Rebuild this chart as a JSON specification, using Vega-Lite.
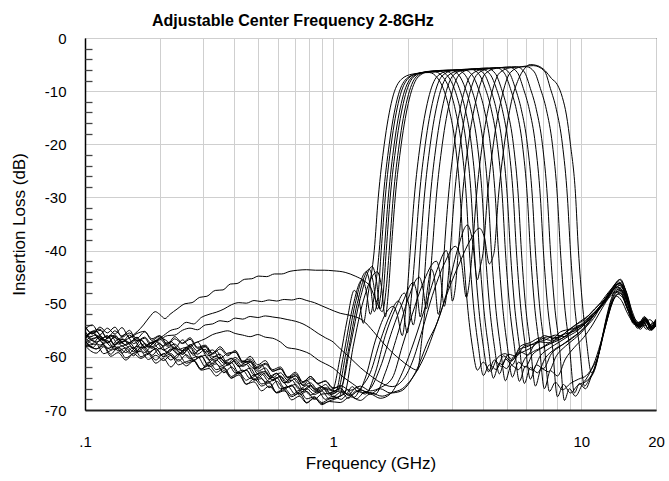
{
"$schema": "https://vega.github.io/schema/vega-lite/v6.json",
"width": 571, "height": 372,
"autosize": {"type": "none"},
"padding": {"left": 85, "top": 38, "right": 13, "bottom": 71},
"background": "white",
"title": {"text": "Adjustable Center Frequency 2-8GHz", "font": "Liberation Sans", "fontSize": 16, "fontWeight": "bold", "color": "black", "anchor": "start", "frame": "group", "dx": 67, "dy": 22, "offset": 11, "baseline": "alphabetic"},
"config": {"view": {"stroke": "black", "strokeWidth": 1}},
"datasets": {"curves": [
{"c":1,"f":0.1,"d":-54.2},{"c":1,"f":0.107,"d":-55.6},{"c":1,"f":0.115,"d":-55.0},{"c":1,"f":0.123,"d":-56.5},{"c":1,"f":0.132,"d":-55.1},{"c":1,"f":0.141,"d":-56.1},{"c":1,"f":0.151,"d":-55.0},{"c":1,"f":0.162,"d":-57.0},{"c":1,"f":0.174,"d":-56.3},{"c":1,"f":0.186,"d":-57.6},{"c":1,"f":0.2,"d":-56.4},{"c":1,"f":0.215,"d":-57.1},{"c":1,"f":0.23,"d":-58.4},{"c":1,"f":0.247,"d":-56.8},{"c":1,"f":0.265,"d":-58.1},{"c":1,"f":0.284,"d":-57.2},{"c":1,"f":0.305,"d":-59.1},{"c":1,"f":0.327,"d":-58.7},{"c":1,"f":0.35,"d":-60.3},{"c":1,"f":0.376,"d":-59.3},{"c":1,"f":0.403,"d":-59.1},{"c":1,"f":0.432,"d":-60.9},{"c":1,"f":0.463,"d":-60.9},{"c":1,"f":0.497,"d":-62.3},{"c":1,"f":0.533,"d":-61.4},{"c":1,"f":0.571,"d":-62.7},{"c":1,"f":0.613,"d":-62.2},{"c":1,"f":0.657,"d":-64.0},{"c":1,"f":0.705,"d":-63.6},{"c":1,"f":0.756,"d":-65.3},{"c":1,"f":0.81,"d":-64.1},{"c":1,"f":0.87,"d":-65.2},
{"c":1,"f":0.991,"d":-66.3},{"c":1,"f":1.068,"d":-60},{"c":1,"f":1.139,"d":-53},{"c":1,"f":1.216,"d":-47.5},{"c":1,"f":1.274,"d":-49.5},{"c":1,"f":1.322,"d":-53.7},{"c":1,"f":1.385,"d":-48},{"c":1,"f":1.464,"d":-40},{"c":1,"f":1.52,"d":-30},{"c":1,"f":1.607,"d":-20},{"c":1,"f":1.73,"d":-11.5},{"c":1,"f":1.881,"d":-7.8},{"c":1,"f":2.083,"d":-6.8},{"c":1,"f":2.44,"d":-6.5},{"c":1,"f":2.629,"d":-7.5},{"c":1,"f":2.778,"d":-9.5},{"c":1,"f":2.938,"d":-13.5},{"c":1,"f":3.106,"d":-20},{"c":1,"f":3.254,"d":-30},{"c":1,"f":3.346,"d":-40},{"c":1,"f":3.473,"d":-50},{"c":1,"f":3.638,"d":-58},{"c":1,"f":3.811,"d":-62.5},{"c":1,"f":4.029,"d":-61},{"c":1,"f":4.3,"d":-62.7},{"c":1,"f":4.589,"d":-60.2},{"c":1,"f":4.943,"d":-59.4},{"c":1,"f":5.275,"d":-60.6},{"c":1,"f":5.681,"d":-58},{"c":1,"f":6.234,"d":-57.3},{"c":1,"f":6.841,"d":-56.4},{"c":1,"f":7.507,"d":-56.9},{"c":1,"f":8.238,"d":-55.3},{"c":1,"f":9.04,"d":-54.7},{"c":1,"f":9.92,"d":-53.3},{"c":1,"f":10.886,"d":-51.9},{"c":1,"f":11.946,"d":-49.8},{"c":1,"f":13.108,"d":-47.4},{"c":1,"f":14.12,"d":-45.9},{"c":1,"f":15.069,"d":-48.2},{"c":1,"f":16.077,"d":-52.4},{"c":1,"f":16.998,"d":-54.1},{"c":1,"f":17.976,"d":-52.9},{"c":1,"f":19.0,"d":-54.6},{"c":1,"f":20.0,"d":-53.5},
{"c":2,"f":0.1,"d":-56.9},{"c":2,"f":0.111,"d":-58.5},{"c":2,"f":0.119,"d":-57.5},{"c":2,"f":0.127,"d":-57.1},{"c":2,"f":0.136,"d":-58.9},{"c":2,"f":0.146,"d":-58.3},{"c":2,"f":0.157,"d":-59.8},{"c":2,"f":0.168,"d":-58.2},{"c":2,"f":0.18,"d":-59.4},{"c":2,"f":0.193,"d":-58.4},{"c":2,"f":0.207,"d":-60.0},{"c":2,"f":0.222,"d":-59.4},{"c":2,"f":0.238,"d":-60.8},{"c":2,"f":0.256,"d":-59.6},{"c":2,"f":0.274,"d":-60.7},{"c":2,"f":0.294,"d":-59.8},{"c":2,"f":0.316,"d":-61.9},{"c":2,"f":0.338,"d":-61.3},{"c":2,"f":0.363,"d":-63.0},{"c":2,"f":0.389,"d":-61.9},{"c":2,"f":0.417,"d":-63.2},{"c":2,"f":0.447,"d":-62.5},{"c":2,"f":0.48,"d":-64.4},{"c":2,"f":0.515,"d":-64.1},{"c":2,"f":0.552,"d":-65.8},{"c":2,"f":0.592,"d":-64.6},{"c":2,"f":0.635,"d":-66.1},{"c":2,"f":0.681,"d":-65.3},{"c":2,"f":0.73,"d":-67.2},{"c":2,"f":0.783,"d":-66.5},{"c":2,"f":0.84,"d":-68.0},{"c":2,"f":0.9,"d":-67.0},
{"c":2,"f":1.019,"d":-66.8},{"c":2,"f":1.098,"d":-60},{"c":2,"f":1.194,"d":-51},{"c":2,"f":1.31,"d":-45.5},{"c":2,"f":1.359,"d":-47.5},{"c":2,"f":1.411,"d":-52},{"c":2,"f":1.464,"d":-48.5},{"c":2,"f":1.534,"d":-40},{"c":2,"f":1.592,"d":-30},{"c":2,"f":1.683,"d":-20},{"c":2,"f":1.812,"d":-11.5},{"c":2,"f":1.971,"d":-7.7},{"c":2,"f":2.183,"d":-6.7},{"c":2,"f":2.58,"d":-6.4},{"c":2,"f":2.778,"d":-7.4},{"c":2,"f":2.938,"d":-9.5},{"c":2,"f":3.106,"d":-13.5},{"c":2,"f":3.284,"d":-20},{"c":2,"f":3.441,"d":-30},{"c":2,"f":3.538,"d":-40},{"c":2,"f":3.672,"d":-50},{"c":2,"f":3.847,"d":-58},{"c":2,"f":4.029,"d":-63.5},{"c":2,"f":4.26,"d":-61.5},{"c":2,"f":4.547,"d":-62.4},{"c":2,"f":4.852,"d":-59.8},{"c":2,"f":5.226,"d":-60.8},{"c":2,"f":5.63,"d":-58.6},{"c":2,"f":6.12,"d":-58.0},{"c":2,"f":6.715,"d":-57.0},{"c":2,"f":7.369,"d":-56.2},{"c":2,"f":8.087,"d":-56.4},{"c":2,"f":8.874,"d":-55.0},{"c":2,"f":9.738,"d":-54.3},{"c":2,"f":10.686,"d":-52.6},{"c":2,"f":11.726,"d":-51.0},{"c":2,"f":12.868,"d":-48.6},{"c":2,"f":13.989,"d":-46.8},{"c":2,"f":14.929,"d":-48.6},{"c":2,"f":15.927,"d":-52.0},{"c":2,"f":16.841,"d":-54.6},{"c":2,"f":17.81,"d":-53.4},{"c":2,"f":18.831,"d":-55.0},{"c":2,"f":20.0,"d":-54.0},
{"c":3,"f":0.1,"d":-56.7},{"c":3,"f":0.107,"d":-55.2},{"c":3,"f":0.115,"d":-56.7},{"c":3,"f":0.123,"d":-56.0},{"c":3,"f":0.132,"d":-57.7},{"c":3,"f":0.141,"d":-56.6},{"c":3,"f":0.151,"d":-57.3},{"c":3,"f":0.162,"d":-56.3},{"c":3,"f":0.174,"d":-58.3},{"c":3,"f":0.186,"d":-57.3},{"c":3,"f":0.2,"d":-58.5},{"c":3,"f":0.215,"d":-57.3},{"c":3,"f":0.23,"d":-58.4},{"c":3,"f":0.247,"d":-59.5},{"c":3,"f":0.265,"d":-58.1},{"c":3,"f":0.284,"d":-59.5},{"c":3,"f":0.305,"d":-58.6},{"c":3,"f":0.327,"d":-60.5},{"c":3,"f":0.35,"d":-60.1},{"c":3,"f":0.376,"d":-61.6},{"c":3,"f":0.403,"d":-60.5},{"c":3,"f":0.432,"d":-61.8},{"c":3,"f":0.463,"d":-61.0},{"c":3,"f":0.497,"d":-63.2},{"c":3,"f":0.533,"d":-62.7},{"c":3,"f":0.571,"d":-64.5},{"c":3,"f":0.613,"d":-63.6},{"c":3,"f":0.657,"d":-64.9},{"c":3,"f":0.705,"d":-64.1},{"c":3,"f":0.756,"d":-66.2},{"c":3,"f":0.81,"d":-65.3},{"c":3,"f":0.87,"d":-66.4},{"c":3,"f":0.93,"d":-65.8},
{"c":3,"f":1.038,"d":-66.5},{"c":3,"f":1.129,"d":-59},{"c":3,"f":1.227,"d":-50},{"c":3,"f":1.359,"d":-44},{"c":3,"f":1.411,"d":-46.5},{"c":3,"f":1.464,"d":-51.5},{"c":3,"f":1.52,"d":-48},{"c":3,"f":1.562,"d":-40},{"c":3,"f":1.622,"d":-30},{"c":3,"f":1.714,"d":-20},{"c":3,"f":1.846,"d":-11.5},{"c":3,"f":2.008,"d":-7.6},{"c":3,"f":2.223,"d":-6.6},{"c":3,"f":2.702,"d":-6.3},{"c":3,"f":2.911,"d":-7.3},{"c":3,"f":3.077,"d":-9.5},{"c":3,"f":3.254,"d":-13.5},{"c":3,"f":3.441,"d":-20},{"c":3,"f":3.604,"d":-30},{"c":3,"f":3.706,"d":-40},{"c":3,"f":3.847,"d":-50},{"c":3,"f":4.029,"d":-58},{"c":3,"f":4.221,"d":-62.8},{"c":3,"f":4.463,"d":-60.6},{"c":3,"f":4.762,"d":-61.8},{"c":3,"f":5.082,"d":-59.5},{"c":3,"f":5.475,"d":-59.9},{"c":3,"f":5.896,"d":-57.9},{"c":3,"f":6.47,"d":-57.6},{"c":3,"f":7.1,"d":-56.0},{"c":3,"f":7.792,"d":-56.6},{"c":3,"f":8.55,"d":-55.6},{"c":3,"f":9.383,"d":-54.1},{"c":3,"f":10.296,"d":-53.0},{"c":3,"f":11.298,"d":-51.0},{"c":3,"f":12.399,"d":-49.2},{"c":3,"f":13.354,"d":-47.0},{"c":3,"f":14.251,"d":-45.5},{"c":3,"f":15.21,"d":-48.0},{"c":3,"f":16.077,"d":-52.8},{"c":3,"f":16.998,"d":-53.6},{"c":3,"f":17.976,"d":-52.6},{"c":3,"f":19.0,"d":-54.0},{"c":3,"f":20.0,"d":-52.9},
{"c":4,"f":0.1,"d":-58.0},{"c":4,"f":0.111,"d":-57.6},{"c":4,"f":0.119,"d":-59.4},{"c":4,"f":0.127,"d":-58.8},{"c":4,"f":0.136,"d":-58.3},{"c":4,"f":0.146,"d":-60.2},{"c":4,"f":0.157,"d":-59.3},{"c":4,"f":0.168,"d":-59.0},{"c":4,"f":0.18,"d":-60.5},{"c":4,"f":0.193,"d":-59.7},{"c":4,"f":0.207,"d":-60.7},{"c":4,"f":0.222,"d":-59.7},{"c":4,"f":0.238,"d":-61.5},{"c":4,"f":0.256,"d":-60.9},{"c":4,"f":0.274,"d":-60.6},{"c":4,"f":0.294,"d":-62.3},{"c":4,"f":0.316,"d":-61.6},{"c":4,"f":0.338,"d":-62.9},{"c":4,"f":0.363,"d":-62.2},{"c":4,"f":0.389,"d":-64.0},{"c":4,"f":0.417,"d":-63.4},{"c":4,"f":0.447,"d":-65.2},{"c":4,"f":0.48,"d":-64.1},{"c":4,"f":0.515,"d":-65.5},{"c":4,"f":0.552,"d":-64.9},{"c":4,"f":0.592,"d":-66.8},{"c":4,"f":0.635,"d":-66.4},{"c":4,"f":0.681,"d":-67.5},{"c":4,"f":0.73,"d":-66.8},{"c":4,"f":0.783,"d":-68.6},{"c":4,"f":0.84,"d":-67.8},{"c":4,"f":0.9,"d":-68.8},{"c":4,"f":0.965,"d":-68.3},
{"c":4,"f":1.058,"d":-67.5},{"c":4,"f":1.15,"d":-59},{"c":4,"f":1.25,"d":-50},{"c":4,"f":1.398,"d":-43.5},{"c":4,"f":1.451,"d":-46},{"c":4,"f":1.506,"d":-51},{"c":4,"f":1.562,"d":-47.5},{"c":4,"f":1.607,"d":-40},{"c":4,"f":1.668,"d":-30},{"c":4,"f":1.762,"d":-20},{"c":4,"f":1.899,"d":-11.5},{"c":4,"f":2.064,"d":-7.5},{"c":4,"f":2.286,"d":-6.5},{"c":4,"f":2.831,"d":-6.2},{"c":4,"f":3.049,"d":-7.2},{"c":4,"f":3.224,"d":-9.5},{"c":4,"f":3.409,"d":-13.5},{"c":4,"f":3.604,"d":-20},{"c":4,"f":3.776,"d":-30},{"c":4,"f":3.882,"d":-40},{"c":4,"f":4.029,"d":-50},{"c":4,"f":4.221,"d":-58},{"c":4,"f":4.422,"d":-64.0},{"c":4,"f":4.675,"d":-61.2},{"c":4,"f":4.989,"d":-62.2},{"c":4,"f":5.324,"d":-60.0},{"c":4,"f":5.734,"d":-59.2},{"c":4,"f":6.234,"d":-58.4},{"c":4,"f":6.841,"d":-57.2},{"c":4,"f":7.507,"d":-57.4},{"c":4,"f":8.238,"d":-56.0},{"c":4,"f":9.04,"d":-55.4},{"c":4,"f":9.92,"d":-54.6},{"c":4,"f":10.886,"d":-52.8},{"c":4,"f":11.946,"d":-50.8},{"c":4,"f":12.988,"d":-48.6},{"c":4,"f":13.989,"d":-46.4},{"c":4,"f":14.929,"d":-47.6},{"c":4,"f":15.927,"d":-51.8},{"c":4,"f":16.841,"d":-53.4},{"c":4,"f":17.81,"d":-54.2},{"c":4,"f":18.831,"d":-53.0},{"c":4,"f":20.0,"d":-54.4},
{"c":5,"f":0.1,"d":-54.8},{"c":5,"f":0.107,"d":-54.0},{"c":5,"f":0.115,"d":-55.8},{"c":5,"f":0.123,"d":-54.6},{"c":5,"f":0.132,"d":-55.7},{"c":5,"f":0.141,"d":-54.5},{"c":5,"f":0.151,"d":-56.4},{"c":5,"f":0.162,"d":-55.6},{"c":5,"f":0.174,"d":-55.2},{"c":5,"f":0.186,"d":-56.9},{"c":5,"f":0.2,"d":-56.1},{"c":5,"f":0.215,"d":-57.6},{"c":5,"f":0.23,"d":-56.2},{"c":5,"f":0.247,"d":-57.4},{"c":5,"f":0.265,"d":-56.4},{"c":5,"f":0.284,"d":-58.2},{"c":5,"f":0.305,"d":-57.8},{"c":5,"f":0.327,"d":-59.3},{"c":5,"f":0.35,"d":-58.1},{"c":5,"f":0.376,"d":-59.5},{"c":5,"f":0.403,"d":-59.1},{"c":5,"f":0.432,"d":-61.0},{"c":5,"f":0.463,"d":-59.9},{"c":5,"f":0.497,"d":-61.5},{"c":5,"f":0.533,"d":-60.7},{"c":5,"f":0.571,"d":-62.7},{"c":5,"f":0.613,"d":-62.3},{"c":5,"f":0.657,"d":-63.8},{"c":5,"f":0.705,"d":-62.9},{"c":5,"f":0.756,"d":-64.7},{"c":5,"f":0.81,"d":-63.7},{"c":5,"f":0.87,"d":-65.0},{"c":5,"f":0.93,"d":-64.5},{"c":5,"f":1.0,"d":-65.8},
{"c":5,"f":1.078,"d":-65.5},{"c":5,"f":1.172,"d":-58},{"c":5,"f":1.286,"d":-49},{"c":5,"f":1.437,"d":-43},{"c":5,"f":1.492,"d":-45.5},{"c":5,"f":1.548,"d":-51},{"c":5,"f":1.592,"d":-48},{"c":5,"f":1.637,"d":-40},{"c":5,"f":1.698,"d":-30},{"c":5,"f":1.796,"d":-20},{"c":5,"f":1.935,"d":-11.5},{"c":5,"f":2.103,"d":-7.4},{"c":5,"f":2.329,"d":-6.4},{"c":5,"f":2.993,"d":-6.1},{"c":5,"f":3.224,"d":-7.1},{"c":5,"f":3.409,"d":-9.5},{"c":5,"f":3.604,"d":-13.5},{"c":5,"f":3.811,"d":-20},{"c":5,"f":3.992,"d":-30},{"c":5,"f":4.105,"d":-40},{"c":5,"f":4.26,"d":-50},{"c":5,"f":4.463,"d":-58},{"c":5,"f":4.675,"d":-63.2},{"c":5,"f":4.943,"d":-60.4},{"c":5,"f":5.275,"d":-61.5},{"c":5,"f":5.63,"d":-59.0},{"c":5,"f":6.063,"d":-59.6},{"c":5,"f":6.531,"d":-57.5},{"c":5,"f":7.167,"d":-56.8},{"c":5,"f":7.864,"d":-55.9},{"c":5,"f":8.63,"d":-56.2},{"c":5,"f":9.47,"d":-54.4},{"c":5,"f":10.392,"d":-53.6},{"c":5,"f":11.404,"d":-51.5},{"c":5,"f":12.399,"d":-49.6},{"c":5,"f":13.354,"d":-47.2},{"c":5,"f":14.384,"d":-45.4},{"c":5,"f":15.351,"d":-48.8},{"c":5,"f":16.227,"d":-52.6},{"c":5,"f":17.157,"d":-54.4},{"c":5,"f":18.144,"d":-53.3},{"c":5,"f":19.177,"d":-54.9},{"c":5,"f":20.0,"d":-53.8},
{"c":6,"f":0.1,"d":-55.1},{"c":6,"f":0.107,"d":-56.7},{"c":6,"f":0.115,"d":-56.0},{"c":6,"f":0.123,"d":-57.4},{"c":6,"f":0.132,"d":-56.1},{"c":6,"f":0.141,"d":-57.1},{"c":6,"f":0.151,"d":-56.4},{"c":6,"f":0.162,"d":-55.3},{"c":6,"f":0.172,"d":-54.0},{"c":6,"f":0.182,"d":-52.5},{"c":6,"f":0.192,"d":-51.5},{"c":6,"f":0.2,"d":-52.0},{"c":6,"f":0.21,"d":-52.8},{"c":6,"f":0.22,"d":-52.0},{"c":6,"f":0.235,"d":-51.0},{"c":6,"f":0.253,"d":-50.0},{"c":6,"f":0.27,"d":-49.8},{"c":6,"f":0.29,"d":-48.8},{"c":6,"f":0.31,"d":-48.6},{"c":6,"f":0.335,"d":-47.5},{"c":6,"f":0.36,"d":-47.4},{"c":6,"f":0.385,"d":-46.3},{"c":6,"f":0.41,"d":-46.2},{"c":6,"f":0.44,"d":-45.4},{"c":6,"f":0.47,"d":-45.3},{"c":6,"f":0.5,"d":-44.8},{"c":6,"f":0.54,"d":-44.9},{"c":6,"f":0.58,"d":-44.4},{"c":6,"f":0.62,"d":-44.4},{"c":6,"f":0.67,"d":-43.9},{"c":6,"f":0.72,"d":-43.7},{"c":6,"f":0.78,"d":-43.6},{"c":6,"f":0.85,"d":-43.7},{"c":6,"f":0.92,"d":-43.7},{"c":6,"f":1.0,"d":-43.8},
{"c":6,"f":1.118,"d":-44.1},{"c":6,"f":1.227,"d":-44.8},{"c":6,"f":1.322,"d":-45.6},{"c":6,"f":1.411,"d":-46.8},{"c":6,"f":1.492,"d":-49.5},{"c":6,"f":1.577,"d":-51.5},{"c":6,"f":1.637,"d":-47},{"c":6,"f":1.683,"d":-40},{"c":6,"f":1.746,"d":-30},{"c":6,"f":1.846,"d":-20},{"c":6,"f":1.989,"d":-11.5},{"c":6,"f":2.162,"d":-7.3},{"c":6,"f":2.395,"d":-6.3},{"c":6,"f":3.164,"d":-6.0},{"c":6,"f":3.409,"d":-7.0},{"c":6,"f":3.604,"d":-9.5},{"c":6,"f":3.811,"d":-13.5},{"c":6,"f":4.029,"d":-20},{"c":6,"f":4.221,"d":-30},{"c":6,"f":4.34,"d":-40},{"c":6,"f":4.505,"d":-50},{"c":6,"f":4.718,"d":-58},{"c":6,"f":4.943,"d":-64.5},{"c":6,"f":5.226,"d":-61.6},{"c":6,"f":5.578,"d":-62.4},{"c":6,"f":5.951,"d":-60.2},{"c":6,"f":6.41,"d":-59.0},{"c":6,"f":6.97,"d":-58.2},{"c":6,"f":7.648,"d":-57.0},{"c":6,"f":8.393,"d":-56.5},{"c":6,"f":9.21,"d":-55.0},{"c":6,"f":10.106,"d":-54.0},{"c":6,"f":11.091,"d":-52.0},{"c":6,"f":12.057,"d":-50.2},{"c":6,"f":13.108,"d":-47.8},{"c":6,"f":14.12,"d":-46.2},{"c":6,"f":15.069,"d":-47.4},{"c":6,"f":16.077,"d":-51.6},{"c":6,"f":16.998,"d":-53.8},{"c":6,"f":17.976,"d":-52.8},{"c":6,"f":19.0,"d":-54.3},{"c":6,"f":20.0,"d":-53.1},
{"c":7,"f":0.1,"d":-57.4},{"c":7,"f":0.111,"d":-56.4},{"c":7,"f":0.119,"d":-57.7},{"c":7,"f":0.127,"d":-58.6},{"c":7,"f":0.136,"d":-57.2},{"c":7,"f":0.146,"d":-57.8},{"c":7,"f":0.157,"d":-59.0},{"c":7,"f":0.168,"d":-57.5},{"c":7,"f":0.18,"d":-59.1},{"c":7,"f":0.193,"d":-58.5},{"c":7,"f":0.207,"d":-59.9},{"c":7,"f":0.222,"d":-58.5},{"c":7,"f":0.238,"d":-59.6},{"c":7,"f":0.256,"d":-58.7},{"c":7,"f":0.274,"d":-60.6},{"c":7,"f":0.294,"d":-59.9},{"c":7,"f":0.316,"d":-61.6},{"c":7,"f":0.338,"d":-60.6},{"c":7,"f":0.363,"d":-61.8},{"c":7,"f":0.389,"d":-61.1},{"c":7,"f":0.417,"d":-63.0},{"c":7,"f":0.447,"d":-62.5},{"c":7,"f":0.48,"d":-64.3},{"c":7,"f":0.515,"d":-63.2},{"c":7,"f":0.552,"d":-64.7},{"c":7,"f":0.592,"d":-63.9},{"c":7,"f":0.635,"d":-65.8},{"c":7,"f":0.681,"d":-65.5},{"c":7,"f":0.73,"d":-66.9},{"c":7,"f":0.783,"d":-66.0},{"c":7,"f":0.84,"d":-67.1},{"c":7,"f":0.9,"d":-66.4},{"c":7,"f":0.965,"d":-67.9},
{"c":7,"f":1.108,"d":-67},{"c":7,"f":1.205,"d":-58},{"c":7,"f":1.322,"d":-49.5},{"c":7,"f":1.506,"d":-44},{"c":7,"f":1.562,"d":-46.5},{"c":7,"f":1.622,"d":-52.5},{"c":7,"f":1.668,"d":-48},{"c":7,"f":1.714,"d":-40},{"c":7,"f":1.779,"d":-30},{"c":7,"f":1.881,"d":-20},{"c":7,"f":2.027,"d":-11.5},{"c":7,"f":2.203,"d":-7.3},{"c":7,"f":2.44,"d":-6.3},{"c":7,"f":3.377,"d":-6.0},{"c":7,"f":3.638,"d":-7.0},{"c":7,"f":3.847,"d":-9.5},{"c":7,"f":4.067,"d":-13.5},{"c":7,"f":4.3,"d":-20},{"c":7,"f":4.505,"d":-30},{"c":7,"f":4.632,"d":-40},{"c":7,"f":4.807,"d":-50},{"c":7,"f":5.035,"d":-58},{"c":7,"f":5.275,"d":-63.8},{"c":7,"f":5.578,"d":-61.0},{"c":7,"f":5.951,"d":-61.9},{"c":7,"f":6.351,"d":-59.6},{"c":7,"f":6.841,"d":-58.5},{"c":7,"f":7.437,"d":-57.6},{"c":7,"f":8.162,"d":-56.8},{"c":7,"f":8.956,"d":-55.6},{"c":7,"f":9.828,"d":-54.4},{"c":7,"f":10.785,"d":-53.0},{"c":7,"f":11.726,"d":-51.2},{"c":7,"f":12.749,"d":-49.0},{"c":7,"f":13.605,"d":-47.0},{"c":7,"f":14.384,"d":-46.0},{"c":7,"f":15.351,"d":-48.6},{"c":7,"f":16.227,"d":-52.9},{"c":7,"f":17.157,"d":-54.0},{"c":7,"f":18.144,"d":-52.6},{"c":7,"f":19.177,"d":-54.2},{"c":7,"f":20.0,"d":-53.0},
{"c":8,"f":0.1,"d":-56.1},{"c":8,"f":0.107,"d":-55.2},{"c":8,"f":0.115,"d":-54.8},{"c":8,"f":0.123,"d":-56.5},{"c":8,"f":0.132,"d":-55.9},{"c":8,"f":0.141,"d":-57.3},{"c":8,"f":0.151,"d":-55.9},{"c":8,"f":0.162,"d":-57.0},{"c":8,"f":0.174,"d":-56.5},{"c":8,"f":0.186,"d":-58.2},{"c":8,"f":0.2,"d":-56.6},{"c":8,"f":0.215,"d":-58.0},{"c":8,"f":0.23,"d":-57.6},{"c":8,"f":0.247,"d":-58.8},{"c":8,"f":0.265,"d":-57.7},{"c":8,"f":0.284,"d":-58.9},{"c":8,"f":0.305,"d":-58.1},{"c":8,"f":0.327,"d":-60.0},{"c":8,"f":0.35,"d":-59.5},{"c":8,"f":0.376,"d":-61.2},{"c":8,"f":0.403,"d":-60.1},{"c":8,"f":0.432,"d":-61.2},{"c":8,"f":0.463,"d":-60.7},{"c":8,"f":0.497,"d":-62.7},{"c":8,"f":0.533,"d":-62.1},{"c":8,"f":0.571,"d":-63.9},{"c":8,"f":0.613,"d":-63.0},{"c":8,"f":0.657,"d":-64.4},{"c":8,"f":0.705,"d":-63.5},{"c":8,"f":0.756,"d":-65.4},{"c":8,"f":0.81,"d":-64.9},{"c":8,"f":0.87,"d":-66.2},{"c":8,"f":0.93,"d":-65.2},{"c":8,"f":1.0,"d":-66.6},
{"c":8,"f":1.068,"d":-65.8},{"c":8,"f":1.129,"d":-66.9},{"c":8,"f":1.194,"d":-65.6},{"c":8,"f":1.262,"d":-66.6},{"c":8,"f":1.347,"d":-64},{"c":8,"f":1.478,"d":-57},{"c":8,"f":1.622,"d":-52},{"c":8,"f":1.746,"d":-50.5},{"c":8,"f":1.812,"d":-52},{"c":8,"f":1.899,"d":-56},{"c":8,"f":1.971,"d":-50},{"c":8,"f":2.045,"d":-40},{"c":8,"f":2.123,"d":-30},{"c":8,"f":2.244,"d":-20},{"c":8,"f":2.417,"d":-11.5},{"c":8,"f":2.629,"d":-7.2},{"c":8,"f":2.911,"d":-6.2},{"c":8,"f":3.604,"d":-5.9},{"c":8,"f":3.882,"d":-6.9},{"c":8,"f":4.105,"d":-9.5},{"c":8,"f":4.34,"d":-13.5},{"c":8,"f":4.589,"d":-20},{"c":8,"f":4.807,"d":-30},{"c":8,"f":4.943,"d":-40},{"c":8,"f":5.129,"d":-50},{"c":8,"f":5.374,"d":-58},{"c":8,"f":5.63,"d":-64.6},{"c":8,"f":5.951,"d":-61.8},{"c":8,"f":6.351,"d":-62.5},{"c":8,"f":6.841,"d":-59.8},{"c":8,"f":7.437,"d":-58.4},{"c":8,"f":8.162,"d":-57.2},{"c":8,"f":8.956,"d":-56.0},{"c":8,"f":9.828,"d":-54.8},{"c":8,"f":10.785,"d":-52.6},{"c":8,"f":11.726,"d":-50.8},{"c":8,"f":12.749,"d":-48.4},{"c":8,"f":13.605,"d":-46.6},{"c":8,"f":14.384,"d":-46.2},{"c":8,"f":15.351,"d":-49.2},{"c":8,"f":16.227,"d":-53.2},{"c":8,"f":17.157,"d":-53.9},{"c":8,"f":18.144,"d":-53.0},{"c":8,"f":19.177,"d":-55.0},{"c":8,"f":20.0,"d":-53.9},
{"c":9,"f":0.1,"d":-57.1},{"c":9,"f":0.111,"d":-58.5},{"c":9,"f":0.119,"d":-57.9},{"c":9,"f":0.127,"d":-59.5},{"c":9,"f":0.136,"d":-58.1},{"c":9,"f":0.146,"d":-59.2},{"c":9,"f":0.157,"d":-58.2},{"c":9,"f":0.168,"d":-60.0},{"c":9,"f":0.18,"d":-59.3},{"c":9,"f":0.193,"d":-60.6},{"c":9,"f":0.207,"d":-59.4},{"c":9,"f":0.222,"d":-60.6},{"c":9,"f":0.238,"d":-59.5},{"c":9,"f":0.256,"d":-61.2},{"c":9,"f":0.274,"d":-60.8},{"c":9,"f":0.294,"d":-62.3},{"c":9,"f":0.316,"d":-61.0},{"c":9,"f":0.338,"d":-62.4},{"c":9,"f":0.363,"d":-62.0},{"c":9,"f":0.389,"d":-63.7},{"c":9,"f":0.417,"d":-62.9},{"c":9,"f":0.447,"d":-64.4},{"c":9,"f":0.48,"d":-63.4},{"c":9,"f":0.515,"d":-65.1},{"c":9,"f":0.552,"d":-64.7},{"c":9,"f":0.592,"d":-66.7},{"c":9,"f":0.635,"d":-65.9},{"c":9,"f":0.681,"d":-67.2},{"c":9,"f":0.73,"d":-66.3},{"c":9,"f":0.783,"d":-67.9},{"c":9,"f":0.84,"d":-67.5},{"c":9,"f":0.9,"d":-68.6},{"c":9,"f":0.965,"d":-67.9},
{"c":9,"f":1.068,"d":-67.4},{"c":9,"f":1.139,"d":-66.2},{"c":9,"f":1.216,"d":-67.6},{"c":9,"f":1.286,"d":-66},{"c":9,"f":1.411,"d":-63},{"c":9,"f":1.548,"d":-57},{"c":9,"f":1.698,"d":-52},{"c":9,"f":1.829,"d":-49.5},{"c":9,"f":1.917,"d":-51.5},{"c":9,"f":1.989,"d":-55.5},{"c":9,"f":2.064,"d":-49},{"c":9,"f":2.142,"d":-40},{"c":9,"f":2.223,"d":-30},{"c":9,"f":2.351,"d":-20},{"c":9,"f":2.533,"d":-11.5},{"c":9,"f":2.753,"d":-7.1},{"c":9,"f":3.049,"d":-6.1},{"c":9,"f":3.776,"d":-5.8},{"c":9,"f":4.067,"d":-6.8},{"c":9,"f":4.3,"d":-9.5},{"c":9,"f":4.547,"d":-13.5},{"c":9,"f":4.807,"d":-20},{"c":9,"f":5.035,"d":-30},{"c":9,"f":5.178,"d":-40},{"c":9,"f":5.374,"d":-50},{"c":9,"f":5.63,"d":-58},{"c":9,"f":5.896,"d":-65.0},{"c":9,"f":6.234,"d":-62.0},{"c":9,"f":6.653,"d":-63.0},{"c":9,"f":7.167,"d":-60.2},{"c":9,"f":7.792,"d":-58.6},{"c":9,"f":8.55,"d":-57.5},{"c":9,"f":9.383,"d":-56.2},{"c":9,"f":10.296,"d":-54.6},{"c":9,"f":11.194,"d":-52.8},{"c":9,"f":12.17,"d":-50.0},{"c":9,"f":13.108,"d":-48.0},{"c":9,"f":13.989,"d":-46.9},{"c":9,"f":14.791,"d":-47.8},{"c":9,"f":15.78,"d":-51.5},{"c":9,"f":16.686,"d":-54.2},{"c":9,"f":17.645,"d":-53.4},{"c":9,"f":18.657,"d":-54.6},{"c":9,"f":20.0,"d":-53.2},
{"c":10,"f":0.1,"d":-56.3},{"c":10,"f":0.107,"d":-57.5},{"c":10,"f":0.115,"d":-56.2},{"c":10,"f":0.123,"d":-57.3},{"c":10,"f":0.132,"d":-56.3},{"c":10,"f":0.141,"d":-58.0},{"c":10,"f":0.151,"d":-57.3},{"c":10,"f":0.162,"d":-58.8},{"c":10,"f":0.174,"d":-57.5},{"c":10,"f":0.186,"d":-58.4},{"c":10,"f":0.2,"d":-57.5},{"c":10,"f":0.215,"d":-59.3},{"c":10,"f":0.23,"d":-58.4},{"c":10,"f":0.247,"d":-59.5},{"c":10,"f":0.265,"d":-58.3},{"c":10,"f":0.284,"d":-60.2},{"c":10,"f":0.305,"d":-59.7},{"c":10,"f":0.327,"d":-61.3},{"c":10,"f":0.35,"d":-60.2},{"c":10,"f":0.376,"d":-61.4},{"c":10,"f":0.403,"d":-60.8},{"c":10,"f":0.432,"d":-62.7},{"c":10,"f":0.463,"d":-62.1},{"c":10,"f":0.497,"d":-64.0},{"c":10,"f":0.533,"d":-63.0},{"c":10,"f":0.571,"d":-64.3},{"c":10,"f":0.613,"d":-63.7},{"c":10,"f":0.657,"d":-65.6},{"c":10,"f":0.705,"d":-65.2},{"c":10,"f":0.756,"d":-66.6},{"c":10,"f":0.81,"d":-65.5},{"c":10,"f":0.87,"d":-66.8},{"c":10,"f":0.93,"d":-66.0},{"c":10,"f":1.0,"d":-67.5},
{"c":10,"f":1.078,"d":-66.6},{"c":10,"f":1.15,"d":-67.8},{"c":10,"f":1.239,"d":-66.4},{"c":10,"f":1.347,"d":-67},{"c":10,"f":1.478,"d":-63},{"c":10,"f":1.622,"d":-56},{"c":10,"f":1.779,"d":-51},{"c":10,"f":1.935,"d":-48},{"c":10,"f":2.027,"d":-50.5},{"c":10,"f":2.103,"d":-54},{"c":10,"f":2.183,"d":-48.5},{"c":10,"f":2.244,"d":-40},{"c":10,"f":2.329,"d":-30},{"c":10,"f":2.463,"d":-20},{"c":10,"f":2.653,"d":-11.5},{"c":10,"f":2.884,"d":-7.2},{"c":10,"f":3.194,"d":-6.2},{"c":10,"f":3.992,"d":-5.9},{"c":10,"f":4.3,"d":-6.9},{"c":10,"f":4.547,"d":-9.5},{"c":10,"f":4.807,"d":-13.5},{"c":10,"f":5.082,"d":-20},{"c":10,"f":5.324,"d":-30},{"c":10,"f":5.475,"d":-40},{"c":10,"f":5.681,"d":-50},{"c":10,"f":5.951,"d":-58},{"c":10,"f":6.234,"d":-64.2},{"c":10,"f":6.592,"d":-61.5},{"c":10,"f":7.035,"d":-62.2},{"c":10,"f":7.577,"d":-59.4},{"c":10,"f":8.238,"d":-58.0},{"c":10,"f":9.04,"d":-56.6},{"c":10,"f":9.92,"d":-55.2},{"c":10,"f":10.886,"d":-53.0},{"c":10,"f":11.835,"d":-50.6},{"c":10,"f":12.749,"d":-48.8},{"c":10,"f":13.605,"d":-47.2},{"c":10,"f":14.384,"d":-46.5},{"c":10,"f":15.351,"d":-49.8},{"c":10,"f":16.227,"d":-53.0},{"c":10,"f":17.157,"d":-54.6},{"c":10,"f":18.144,"d":-53.5},{"c":10,"f":19.177,"d":-54.2},{"c":10,"f":20.0,"d":-53.7},
{"c":11,"f":0.1,"d":-56.2},{"c":11,"f":0.111,"d":-55.2},{"c":11,"f":0.119,"d":-56.9},{"c":11,"f":0.127,"d":-55.9},{"c":11,"f":0.136,"d":-56.7},{"c":11,"f":0.146,"d":-55.7},{"c":11,"f":0.157,"d":-57.5},{"c":11,"f":0.168,"d":-56.8},{"c":11,"f":0.18,"d":-58.2},{"c":11,"f":0.193,"d":-56.9},{"c":11,"f":0.207,"d":-58.0},{"c":11,"f":0.222,"d":-57.1},{"c":11,"f":0.238,"d":-58.6},{"c":11,"f":0.256,"d":-58.2},{"c":11,"f":0.274,"d":-59.7},{"c":11,"f":0.294,"d":-58.3},{"c":11,"f":0.316,"d":-59.8},{"c":11,"f":0.338,"d":-58.9},{"c":11,"f":0.363,"d":-60.8},{"c":11,"f":0.389,"d":-60.3},{"c":11,"f":0.417,"d":-61.8},{"c":11,"f":0.447,"d":-61.0},{"c":11,"f":0.48,"d":-62.2},{"c":11,"f":0.515,"d":-61.5},{"c":11,"f":0.552,"d":-63.7},{"c":11,"f":0.592,"d":-63.1},{"c":11,"f":0.635,"d":-64.9},{"c":11,"f":0.681,"d":-63.8},{"c":11,"f":0.73,"d":-65.1},{"c":11,"f":0.783,"d":-64.4},{"c":11,"f":0.84,"d":-66.1},{"c":11,"f":0.9,"d":-65.6},{"c":11,"f":0.965,"d":-66.8},
{"c":11,"f":1.068,"d":-66.0},{"c":11,"f":1.15,"d":-67.2},{"c":11,"f":1.239,"d":-65.8},{"c":11,"f":1.322,"d":-66.8},{"c":11,"f":1.411,"d":-66},{"c":11,"f":1.548,"d":-62},{"c":11,"f":1.73,"d":-55},{"c":11,"f":1.917,"d":-49.5},{"c":11,"f":2.103,"d":-46},{"c":11,"f":2.183,"d":-48.5},{"c":11,"f":2.244,"d":-52.5},{"c":11,"f":2.308,"d":-48},{"c":11,"f":2.373,"d":-40},{"c":11,"f":2.463,"d":-30},{"c":11,"f":2.604,"d":-20},{"c":11,"f":2.804,"d":-11.5},{"c":11,"f":3.049,"d":-7.0},{"c":11,"f":3.377,"d":-6.0},{"c":11,"f":4.181,"d":-5.7},{"c":11,"f":4.505,"d":-6.7},{"c":11,"f":4.762,"d":-9.5},{"c":11,"f":5.035,"d":-13.5},{"c":11,"f":5.324,"d":-20},{"c":11,"f":5.578,"d":-30},{"c":11,"f":5.734,"d":-40},{"c":11,"f":5.951,"d":-50},{"c":11,"f":6.234,"d":-58},{"c":11,"f":6.531,"d":-65.5},{"c":11,"f":6.905,"d":-62.2},{"c":11,"f":7.369,"d":-62.8},{"c":11,"f":7.938,"d":-59.8},{"c":11,"f":8.63,"d":-58.0},{"c":11,"f":9.383,"d":-56.6},{"c":11,"f":10.2,"d":-55.0},{"c":11,"f":11.091,"d":-52.6},{"c":11,"f":11.946,"d":-50.6},{"c":11,"f":12.868,"d":-48.6},{"c":11,"f":13.732,"d":-47.6},{"c":11,"f":14.518,"d":-47.0},{"c":11,"f":15.494,"d":-50.2},{"c":11,"f":16.378,"d":-53.4},{"c":11,"f":17.32,"d":-54.2},{"c":11,"f":18.313,"d":-53.0},{"c":11,"f":19.357,"d":-54.6},{"c":11,"f":20.0,"d":-53.9},
{"c":12,"f":0.1,"d":-58.1},{"c":12,"f":0.107,"d":-56.9},{"c":12,"f":0.115,"d":-57.8},{"c":12,"f":0.123,"d":-56.9},{"c":12,"f":0.132,"d":-58.7},{"c":12,"f":0.141,"d":-57.9},{"c":12,"f":0.151,"d":-59.3},{"c":12,"f":0.162,"d":-58.0},{"c":12,"f":0.174,"d":-59.2},{"c":12,"f":0.186,"d":-58.0},{"c":12,"f":0.2,"d":-59.7},{"c":12,"f":0.215,"d":-59.2},{"c":12,"f":0.23,"d":-60.4},{"c":12,"f":0.247,"d":-59.1},{"c":12,"f":0.265,"d":-60.4},{"c":12,"f":0.284,"d":-59.9},{"c":12,"f":0.305,"d":-61.8},{"c":12,"f":0.327,"d":-60.6},{"c":12,"f":0.35,"d":-61.8},{"c":12,"f":0.376,"d":-61.1},{"c":12,"f":0.403,"d":-63.0},{"c":12,"f":0.432,"d":-62.5},{"c":12,"f":0.463,"d":-64.1},{"c":12,"f":0.497,"d":-63.3},{"c":12,"f":0.533,"d":-64.7},{"c":12,"f":0.571,"d":-63.8},{"c":12,"f":0.613,"d":-66.0},{"c":12,"f":0.657,"d":-65.6},{"c":12,"f":0.705,"d":-67.1},{"c":12,"f":0.756,"d":-66.0},{"c":12,"f":0.81,"d":-67.2},{"c":12,"f":0.87,"d":-66.5},{"c":12,"f":0.93,"d":-68.0},{"c":12,"f":1.0,"d":-67.4},
{"c":12,"f":1.078,"d":-68.0},{"c":12,"f":1.15,"d":-66.9},{"c":12,"f":1.239,"d":-67.9},{"c":12,"f":1.347,"d":-66.6},{"c":12,"f":1.478,"d":-67},{"c":12,"f":1.622,"d":-63},{"c":12,"f":1.812,"d":-56},{"c":12,"f":2.008,"d":-49},{"c":12,"f":2.223,"d":-45},{"c":12,"f":2.308,"d":-47.5},{"c":12,"f":2.373,"d":-51},{"c":12,"f":2.44,"d":-47},{"c":12,"f":2.509,"d":-40},{"c":12,"f":2.604,"d":-30},{"c":12,"f":2.753,"d":-20},{"c":12,"f":2.965,"d":-11.5},{"c":12,"f":3.224,"d":-6.9},{"c":12,"f":3.571,"d":-5.9},{"c":12,"f":4.547,"d":-5.6},{"c":12,"f":4.897,"d":-6.6},{"c":12,"f":5.178,"d":-9.5},{"c":12,"f":5.475,"d":-13.5},{"c":12,"f":5.788,"d":-20},{"c":12,"f":6.063,"d":-30},{"c":12,"f":6.234,"d":-40},{"c":12,"f":6.47,"d":-50},{"c":12,"f":6.778,"d":-58},{"c":12,"f":7.1,"d":-66.0},{"c":12,"f":7.507,"d":-62.6},{"c":12,"f":8.012,"d":-63.6},{"c":12,"f":8.63,"d":-60.4},{"c":12,"f":9.383,"d":-58.2},{"c":12,"f":10.2,"d":-56.4},{"c":12,"f":11.091,"d":-54.0},{"c":12,"f":11.946,"d":-51.4},{"c":12,"f":12.868,"d":-49.0},{"c":12,"f":13.732,"d":-47.8},{"c":12,"f":14.518,"d":-47.5},{"c":12,"f":15.494,"d":-50.6},{"c":12,"f":16.378,"d":-53.8},{"c":12,"f":17.32,"d":-53.4},{"c":12,"f":18.313,"d":-54.8},{"c":12,"f":19.357,"d":-53.6},{"c":12,"f":20.0,"d":-54.3},
{"c":13,"f":0.1,"d":-55.8},{"c":13,"f":0.111,"d":-57.2},{"c":13,"f":0.119,"d":-56.7},{"c":13,"f":0.127,"d":-58.0},{"c":13,"f":0.136,"d":-56.7},{"c":13,"f":0.146,"d":-57.8},{"c":13,"f":0.157,"d":-56.9},{"c":13,"f":0.168,"d":-58.3},{"c":13,"f":0.18,"d":-57.6},{"c":13,"f":0.193,"d":-57.0},{"c":13,"f":0.207,"d":-56.0},{"c":13,"f":0.222,"d":-55.0},{"c":13,"f":0.238,"d":-54.6},{"c":13,"f":0.256,"d":-53.5},{"c":13,"f":0.274,"d":-53.8},{"c":13,"f":0.294,"d":-52.6},{"c":13,"f":0.316,"d":-52.0},{"c":13,"f":0.338,"d":-51.6},{"c":13,"f":0.363,"d":-51.0},{"c":13,"f":0.389,"d":-50.2},{"c":13,"f":0.417,"d":-49.8},{"c":13,"f":0.447,"d":-49.9},{"c":13,"f":0.48,"d":-49.4},{"c":13,"f":0.515,"d":-49.6},{"c":13,"f":0.552,"d":-49.3},{"c":13,"f":0.592,"d":-49.5},{"c":13,"f":0.635,"d":-49.2},{"c":13,"f":0.681,"d":-49.3},{"c":13,"f":0.73,"d":-49.0},{"c":13,"f":0.783,"d":-49.4},{"c":13,"f":0.84,"d":-49.8},{"c":13,"f":0.9,"d":-50.4},{"c":13,"f":0.965,"d":-51.0},
{"c":13,"f":1.068,"d":-51.8},{"c":13,"f":1.172,"d":-52.2},{"c":13,"f":1.322,"d":-53.2},{"c":13,"f":1.451,"d":-55.2},{"c":13,"f":1.592,"d":-57.4},{"c":13,"f":1.73,"d":-59.2},{"c":13,"f":1.864,"d":-60.5},{"c":13,"f":2.027,"d":-61.8},{"c":13,"f":2.183,"d":-62.5},{"c":13,"f":2.286,"d":-56},{"c":13,"f":2.395,"d":-47.5},{"c":13,"f":2.486,"d":-43.5},{"c":13,"f":2.556,"d":-45},{"c":13,"f":2.653,"d":-52},{"c":13,"f":2.727,"d":-49},{"c":13,"f":2.804,"d":-40},{"c":13,"f":2.911,"d":-30},{"c":13,"f":3.077,"d":-20},{"c":13,"f":3.315,"d":-11.5},{"c":13,"f":3.604,"d":-6.9},{"c":13,"f":3.992,"d":-5.9},{"c":13,"f":4.762,"d":-5.6},{"c":13,"f":5.129,"d":-6.6},{"c":13,"f":5.424,"d":-9.5},{"c":13,"f":5.734,"d":-13.5},{"c":13,"f":6.063,"d":-20},{"c":13,"f":6.351,"d":-30},{"c":13,"f":6.531,"d":-40},{"c":13,"f":6.778,"d":-50},{"c":13,"f":7.1,"d":-58},{"c":13,"f":7.437,"d":-66.5},{"c":13,"f":7.864,"d":-64.8},{"c":13,"f":8.393,"d":-66.2},{"c":13,"f":9.04,"d":-65.0},{"c":13,"f":9.738,"d":-64.2},{"c":13,"f":10.489,"d":-63.5},{"c":13,"f":11.194,"d":-61.5},{"c":13,"f":11.946,"d":-57.5},{"c":13,"f":12.632,"d":-53.5},{"c":13,"f":13.354,"d":-49.8},{"c":13,"f":13.989,"d":-48.2},{"c":13,"f":14.654,"d":-48.8},{"c":13,"f":15.494,"d":-51.2},{"c":13,"f":16.378,"d":-53.2},{"c":13,"f":17.32,"d":-54.8},{"c":13,"f":18.313,"d":-53.2},{"c":13,"f":19.357,"d":-54.6},{"c":13,"f":20.0,"d":-53.6},
{"c":14,"f":0.1,"d":-54.3},{"c":14,"f":0.107,"d":-55.7},{"c":14,"f":0.115,"d":-54.4},{"c":14,"f":0.123,"d":-55.5},{"c":14,"f":0.132,"d":-54.4},{"c":14,"f":0.141,"d":-56.3},{"c":14,"f":0.151,"d":-55.5},{"c":14,"f":0.162,"d":-56.5},{"c":14,"f":0.174,"d":-55.3},{"c":14,"f":0.186,"d":-56.6},{"c":14,"f":0.2,"d":-56.0},{"c":14,"f":0.215,"d":-57.8},{"c":14,"f":0.23,"d":-56.6},{"c":14,"f":0.247,"d":-57.5},{"c":14,"f":0.265,"d":-56.7},{"c":14,"f":0.284,"d":-58.4},{"c":14,"f":0.305,"d":-58.0},{"c":14,"f":0.327,"d":-59.5},{"c":14,"f":0.35,"d":-58.5},{"c":14,"f":0.376,"d":-59.8},{"c":14,"f":0.403,"d":-58.8},{"c":14,"f":0.432,"d":-60.8},{"c":14,"f":0.463,"d":-60.4},{"c":14,"f":0.497,"d":-62.0},{"c":14,"f":0.533,"d":-61.2},{"c":14,"f":0.571,"d":-62.4},{"c":14,"f":0.613,"d":-61.9},{"c":14,"f":0.657,"d":-63.9},{"c":14,"f":0.705,"d":-63.2},{"c":14,"f":0.756,"d":-64.9},{"c":14,"f":0.81,"d":-63.7},{"c":14,"f":0.87,"d":-65.0},{"c":14,"f":0.93,"d":-64.6},{"c":14,"f":1.0,"d":-66.0},
{"c":14,"f":1.068,"d":-65.4},{"c":14,"f":1.172,"d":-66.3},{"c":14,"f":1.286,"d":-65.5},{"c":14,"f":1.411,"d":-66.4},{"c":14,"f":1.548,"d":-65.8},{"c":14,"f":1.73,"d":-64},{"c":14,"f":1.899,"d":-58},{"c":14,"f":2.083,"d":-52},{"c":14,"f":2.286,"d":-46.5},{"c":14,"f":2.604,"d":-42},{"c":14,"f":2.702,"d":-44.5},{"c":14,"f":2.804,"d":-50.5},{"c":14,"f":2.884,"d":-47},{"c":14,"f":2.965,"d":-40},{"c":14,"f":3.077,"d":-30},{"c":14,"f":3.254,"d":-20},{"c":14,"f":3.505,"d":-11.5},{"c":14,"f":3.811,"d":-6.8},{"c":14,"f":4.221,"d":-5.8},{"c":14,"f":5.129,"d":-5.5},{"c":14,"f":5.526,"d":-6.5},{"c":14,"f":5.842,"d":-9.5},{"c":14,"f":6.176,"d":-13.5},{"c":14,"f":6.531,"d":-20},{"c":14,"f":6.841,"d":-30},{"c":14,"f":7.035,"d":-40},{"c":14,"f":7.301,"d":-50},{"c":14,"f":7.648,"d":-58},{"c":14,"f":8.012,"d":-67.5},{"c":14,"f":8.471,"d":-65.2},{"c":14,"f":9.04,"d":-66.8},{"c":14,"f":9.648,"d":-65.4},{"c":14,"f":10.296,"d":-64.6},{"c":14,"f":10.987,"d":-62.4},{"c":14,"f":11.726,"d":-59.6},{"c":14,"f":12.399,"d":-55.0},{"c":14,"f":13.108,"d":-50.6},{"c":14,"f":13.732,"d":-48.6},{"c":14,"f":14.384,"d":-48.0},{"c":14,"f":15.21,"d":-50.6},{"c":14,"f":16.077,"d":-52.8},{"c":14,"f":16.998,"d":-54.0},{"c":14,"f":17.976,"d":-52.4},{"c":14,"f":19.0,"d":-54.8},{"c":14,"f":20.0,"d":-54.2},
{"c":15,"f":0.1,"d":-57.9},{"c":15,"f":0.111,"d":-59.3},{"c":15,"f":0.119,"d":-58.1},{"c":15,"f":0.127,"d":-59.9},{"c":15,"f":0.136,"d":-59.2},{"c":15,"f":0.146,"d":-60.6},{"c":15,"f":0.157,"d":-59.4},{"c":15,"f":0.168,"d":-60.3},{"c":15,"f":0.18,"d":-59.5},{"c":15,"f":0.193,"d":-61.2},{"c":15,"f":0.207,"d":-60.3},{"c":15,"f":0.222,"d":-61.9},{"c":15,"f":0.238,"d":-60.5},{"c":15,"f":0.256,"d":-61.7},{"c":15,"f":0.274,"d":-60.8},{"c":15,"f":0.294,"d":-62.5},{"c":15,"f":0.316,"d":-62.2},{"c":15,"f":0.338,"d":-63.6},{"c":15,"f":0.363,"d":-62.6},{"c":15,"f":0.389,"d":-64.0},{"c":15,"f":0.417,"d":-63.0},{"c":15,"f":0.447,"d":-65.1},{"c":15,"f":0.48,"d":-64.7},{"c":15,"f":0.515,"d":-66.4},{"c":15,"f":0.552,"d":-65.5},{"c":15,"f":0.592,"d":-66.7},{"c":15,"f":0.635,"d":-66.2},{"c":15,"f":0.681,"d":-68.1},{"c":15,"f":0.73,"d":-67.4},{"c":15,"f":0.783,"d":-68.7},{"c":15,"f":0.84,"d":-67.6},{"c":15,"f":0.9,"d":-69.0},{"c":15,"f":0.965,"d":-68.4},
{"c":15,"f":1.068,"d":-68.6},{"c":15,"f":1.172,"d":-67.5},{"c":15,"f":1.286,"d":-68.2},{"c":15,"f":1.411,"d":-67.0},{"c":15,"f":1.548,"d":-67.8},{"c":15,"f":1.698,"d":-67},{"c":15,"f":1.899,"d":-63},{"c":15,"f":2.123,"d":-57},{"c":15,"f":2.373,"d":-50},{"c":15,"f":2.629,"d":-43.5},{"c":15,"f":2.857,"d":-40},{"c":15,"f":2.938,"d":-42.5},{"c":15,"f":3.021,"d":-49.5},{"c":15,"f":3.106,"d":-47},{"c":15,"f":3.194,"d":-40},{"c":15,"f":3.315,"d":-30},{"c":15,"f":3.505,"d":-20},{"c":15,"f":3.776,"d":-11.5},{"c":15,"f":4.105,"d":-6.7},{"c":15,"f":4.547,"d":-5.7},{"c":15,"f":5.475,"d":-5.4},{"c":15,"f":5.896,"d":-6.4},{"c":15,"f":6.234,"d":-9.5},{"c":15,"f":6.592,"d":-13.5},{"c":15,"f":6.97,"d":-20},{"c":15,"f":7.301,"d":-30},{"c":15,"f":7.507,"d":-40},{"c":15,"f":7.792,"d":-50},{"c":15,"f":8.162,"d":-58},{"c":15,"f":8.55,"d":-68.2},{"c":15,"f":8.956,"d":-66.0},{"c":15,"f":9.47,"d":-67.4},{"c":15,"f":10.106,"d":-65.2},{"c":15,"f":10.785,"d":-64.0},{"c":15,"f":11.404,"d":-61.8},{"c":15,"f":12.057,"d":-57.2},{"c":15,"f":12.749,"d":-52.8},{"c":15,"f":13.354,"d":-49.6},{"c":15,"f":13.86,"d":-48.6},{"c":15,"f":14.518,"d":-49.4},{"c":15,"f":15.351,"d":-51.8},{"c":15,"f":16.227,"d":-53.6},{"c":15,"f":17.157,"d":-54.2},{"c":15,"f":18.144,"d":-53.0},{"c":15,"f":19.177,"d":-54.6},{"c":15,"f":20.0,"d":-53.4},
{"c":16,"f":0.1,"d":-56.7},{"c":16,"f":0.107,"d":-55.5},{"c":16,"f":0.115,"d":-56.7},{"c":16,"f":0.123,"d":-56.1},{"c":16,"f":0.132,"d":-57.8},{"c":16,"f":0.141,"d":-56.7},{"c":16,"f":0.151,"d":-57.6},{"c":16,"f":0.162,"d":-56.6},{"c":16,"f":0.174,"d":-58.2},{"c":16,"f":0.186,"d":-57.2},{"c":16,"f":0.2,"d":-56.8},{"c":16,"f":0.215,"d":-56.0},{"c":16,"f":0.23,"d":-55.9},{"c":16,"f":0.247,"d":-55.0},{"c":16,"f":0.265,"d":-54.6},{"c":16,"f":0.284,"d":-54.9},{"c":16,"f":0.305,"d":-54.0},{"c":16,"f":0.327,"d":-53.8},{"c":16,"f":0.35,"d":-53.2},{"c":16,"f":0.376,"d":-53.4},{"c":16,"f":0.403,"d":-52.7},{"c":16,"f":0.432,"d":-52.9},{"c":16,"f":0.463,"d":-52.4},{"c":16,"f":0.497,"d":-52.6},{"c":16,"f":0.533,"d":-52.3},{"c":16,"f":0.571,"d":-52.5},{"c":16,"f":0.613,"d":-52.7},{"c":16,"f":0.657,"d":-53.0},{"c":16,"f":0.705,"d":-53.3},{"c":16,"f":0.756,"d":-53.8},{"c":16,"f":0.81,"d":-54.6},{"c":16,"f":0.87,"d":-55.6},{"c":16,"f":0.93,"d":-56.4},{"c":16,"f":1.0,"d":-57.2},
{"c":16,"f":1.068,"d":-58.5},{"c":16,"f":1.172,"d":-60.2},{"c":16,"f":1.286,"d":-62},{"c":16,"f":1.411,"d":-63.5},{"c":16,"f":1.548,"d":-64.8},{"c":16,"f":1.73,"d":-65.6},{"c":16,"f":1.899,"d":-64.5},{"c":16,"f":2.083,"d":-61},{"c":16,"f":2.286,"d":-55},{"c":16,"f":2.509,"d":-48.5},{"c":16,"f":2.804,"d":-42.5},{"c":16,"f":3.106,"d":-39.2},{"c":16,"f":3.284,"d":-42},{"c":16,"f":3.441,"d":-48.8},{"c":16,"f":3.538,"d":-46},{"c":16,"f":3.638,"d":-40},{"c":16,"f":3.776,"d":-30},{"c":16,"f":3.992,"d":-20},{"c":16,"f":4.3,"d":-11.5},{"c":16,"f":4.675,"d":-6.6},{"c":16,"f":5.178,"d":-5.6},{"c":16,"f":6.007,"d":-5.4},{"c":16,"f":6.47,"d":-6.4},{"c":16,"f":6.841,"d":-9.5},{"c":16,"f":7.234,"d":-13.5},{"c":16,"f":7.648,"d":-20},{"c":16,"f":8.012,"d":-30},{"c":16,"f":8.238,"d":-40},{"c":16,"f":8.55,"d":-50},{"c":16,"f":8.956,"d":-58},{"c":16,"f":9.383,"d":-66.8},{"c":16,"f":9.828,"d":-65.0},{"c":16,"f":10.392,"d":-66.0},{"c":16,"f":10.987,"d":-63.6},{"c":16,"f":11.618,"d":-60.4},{"c":16,"f":12.284,"d":-55.4},{"c":16,"f":12.988,"d":-51.0},{"c":16,"f":13.605,"d":-48.4},{"c":16,"f":14.251,"d":-47.6},{"c":16,"f":14.929,"d":-49.2},{"c":16,"f":15.78,"d":-52.4},{"c":16,"f":16.686,"d":-54.0},{"c":16,"f":17.645,"d":-53.2},{"c":16,"f":18.657,"d":-54.8},{"c":16,"f":20.0,"d":-53.8},
{"c":17,"f":0.1,"d":-57.1},{"c":17,"f":0.111,"d":-55.9},{"c":17,"f":0.119,"d":-57.0},{"c":17,"f":0.127,"d":-56.0},{"c":17,"f":0.136,"d":-57.6},{"c":17,"f":0.146,"d":-57.0},{"c":17,"f":0.157,"d":-58.4},{"c":17,"f":0.168,"d":-56.9},{"c":17,"f":0.18,"d":-58.1},{"c":17,"f":0.193,"d":-57.1},{"c":17,"f":0.207,"d":-58.7},{"c":17,"f":0.222,"d":-58.1},{"c":17,"f":0.238,"d":-59.4},{"c":17,"f":0.256,"d":-58.3},{"c":17,"f":0.274,"d":-59.4},{"c":17,"f":0.294,"d":-58.5},{"c":17,"f":0.316,"d":-60.6},{"c":17,"f":0.338,"d":-59.9},{"c":17,"f":0.363,"d":-61.2},{"c":17,"f":0.389,"d":-60.3},{"c":17,"f":0.417,"d":-61.8},{"c":17,"f":0.447,"d":-61.4},{"c":17,"f":0.48,"d":-63.4},{"c":17,"f":0.515,"d":-62.8},{"c":17,"f":0.552,"d":-64.1},{"c":17,"f":0.592,"d":-63.1},{"c":17,"f":0.635,"d":-64.9},{"c":17,"f":0.681,"d":-64.4},{"c":17,"f":0.73,"d":-66.1},{"c":17,"f":0.783,"d":-65.4},{"c":17,"f":0.84,"d":-66.5},{"c":17,"f":0.9,"d":-65.6},{"c":17,"f":0.965,"d":-67.2},
{"c":17,"f":1.068,"d":-66.4},{"c":17,"f":1.172,"d":-67.3},{"c":17,"f":1.286,"d":-66.2},{"c":17,"f":1.411,"d":-67.0},{"c":17,"f":1.548,"d":-66.0},{"c":17,"f":1.698,"d":-66.8},{"c":17,"f":1.864,"d":-66.5},{"c":17,"f":2.142,"d":-63},{"c":17,"f":2.417,"d":-57},{"c":17,"f":2.629,"d":-53.5},{"c":17,"f":2.884,"d":-47.5},{"c":17,"f":3.164,"d":-40},{"c":17,"f":3.473,"d":-35.2},{"c":17,"f":3.638,"d":-38},{"c":17,"f":3.811,"d":-45.5},{"c":17,"f":3.918,"d":-43},{"c":17,"f":4.029,"d":-40},{"c":17,"f":4.181,"d":-30},{"c":17,"f":4.422,"d":-20},{"c":17,"f":4.762,"d":-11.5},{"c":17,"f":5.178,"d":-6.5},{"c":17,"f":5.734,"d":-5.4},{"c":17,"f":6.41,"d":-5.2},{"c":17,"f":7.1,"d":-6.2},{"c":17,"f":7.507,"d":-9.5},{"c":17,"f":7.938,"d":-13.5},{"c":17,"f":8.393,"d":-20},{"c":17,"f":8.792,"d":-30},{"c":17,"f":9.04,"d":-40},{"c":17,"f":9.383,"d":-50},{"c":17,"f":9.828,"d":-58},{"c":17,"f":10.296,"d":-65.5},{"c":17,"f":10.785,"d":-64.2},{"c":17,"f":11.298,"d":-62.6},{"c":17,"f":11.835,"d":-59.0},{"c":17,"f":12.515,"d":-53.6},{"c":17,"f":13.23,"d":-49.4},{"c":17,"f":13.86,"d":-47.8},{"c":17,"f":14.518,"d":-48.2},{"c":17,"f":15.351,"d":-51.0},{"c":17,"f":16.227,"d":-53.4},{"c":17,"f":17.157,"d":-54.4},{"c":17,"f":18.144,"d":-52.8},{"c":17,"f":19.177,"d":-54.4},{"c":17,"f":20.0,"d":-53.5},
{"c":18,"f":0.1,"d":-57.0},{"c":18,"f":0.107,"d":-58.3},{"c":18,"f":0.115,"d":-56.9},{"c":18,"f":0.123,"d":-58.4},{"c":18,"f":0.132,"d":-58.0},{"c":18,"f":0.141,"d":-59.3},{"c":18,"f":0.151,"d":-58.0},{"c":18,"f":0.162,"d":-59.1},{"c":18,"f":0.174,"d":-58.2},{"c":18,"f":0.186,"d":-59.7},{"c":18,"f":0.2,"d":-58.4},{"c":18,"f":0.215,"d":-59.0},{"c":18,"f":0.23,"d":-58.3},{"c":18,"f":0.247,"d":-58.9},{"c":18,"f":0.265,"d":-57.8},{"c":18,"f":0.284,"d":-57.2},{"c":18,"f":0.305,"d":-56.6},{"c":18,"f":0.327,"d":-55.8},{"c":18,"f":0.35,"d":-55.4},{"c":18,"f":0.376,"d":-55.1},{"c":18,"f":0.403,"d":-55.6},{"c":18,"f":0.432,"d":-55.9},{"c":18,"f":0.463,"d":-56.2},{"c":18,"f":0.497,"d":-55.8},{"c":18,"f":0.533,"d":-56.3},{"c":18,"f":0.571,"d":-56.5},{"c":18,"f":0.613,"d":-57.2},{"c":18,"f":0.657,"d":-58.3},{"c":18,"f":0.705,"d":-58.5},{"c":18,"f":0.756,"d":-58.9},{"c":18,"f":0.81,"d":-59.5},{"c":18,"f":0.87,"d":-60.6},{"c":18,"f":0.93,"d":-61.3},{"c":18,"f":1.0,"d":-62.1},
{"c":18,"f":1.098,"d":-63.8},{"c":18,"f":1.194,"d":-65},{"c":18,"f":1.31,"d":-66.3},{"c":18,"f":1.437,"d":-66.8},{"c":18,"f":1.577,"d":-67.4},{"c":18,"f":1.73,"d":-66.7},{"c":18,"f":1.899,"d":-66.0},{"c":18,"f":2.083,"d":-64},{"c":18,"f":2.329,"d":-60},{"c":18,"f":2.604,"d":-54},{"c":18,"f":2.911,"d":-47.5},{"c":18,"f":3.254,"d":-42},{"c":18,"f":3.571,"d":-38},{"c":18,"f":3.882,"d":-35.8},{"c":18,"f":4.067,"d":-37.5},{"c":18,"f":4.26,"d":-42.5},{"c":18,"f":4.381,"d":-41.5},{"c":18,"f":4.463,"d":-40},{"c":18,"f":4.632,"d":-30},{"c":18,"f":4.897,"d":-20},{"c":18,"f":5.226,"d":-12},{"c":18,"f":5.578,"d":-7.8},{"c":18,"f":5.896,"d":-5.8},{"c":18,"f":6.234,"d":-5.0},{"c":18,"f":6.653,"d":-5.2},{"c":18,"f":7.167,"d":-6.2},{"c":18,"f":7.577,"d":-7.6},{"c":18,"f":8.012,"d":-8.8},{"c":18,"f":8.393,"d":-11.2},{"c":18,"f":8.711,"d":-14.5},{"c":18,"f":9.04,"d":-20},{"c":18,"f":9.47,"d":-29.2},{"c":18,"f":9.738,"d":-40},{"c":18,"f":10.106,"d":-50},{"c":18,"f":10.489,"d":-57},{"c":18,"f":10.987,"d":-63.0},{"c":18,"f":11.511,"d":-61.0},{"c":18,"f":12.057,"d":-57.0},{"c":18,"f":12.632,"d":-52.5},{"c":18,"f":13.23,"d":-49.0},{"c":18,"f":13.86,"d":-47.2},{"c":18,"f":14.518,"d":-47.6},{"c":18,"f":15.351,"d":-50.8},{"c":18,"f":16.227,"d":-53.8},{"c":18,"f":17.157,"d":-54.0},{"c":18,"f":18.144,"d":-53.0},{"c":18,"f":19.177,"d":-54.7},{"c":18,"f":20.0,"d":-53.8}
]},
"data": {"name": "curves"},
"layer": [
{"mark": {"type": "line", "color": "black", "strokeWidth": 1, "interpolate": "monotone", "clip": true},
 "encoding": {
  "x": {"field": "f", "type": "quantitative", "scale": {"type": "log", "domain": [0.1, 20], "nice": false},
    "axis": {"values": [0.1,0.2,0.3,0.4,0.5,0.6,0.7,0.8,0.9,1,2,3,4,5,6,7,8,9,10,20], "format": "~g",
      "labelExpr": "datum.value < 0.15 ? '.1' : (datum.value == 1 || datum.value == 10 || datum.value == 20) ? datum.label : ''",
      "grid": true, "gridColor": "#cfcfcf", "gridWidth": 1, "ticks": false, "domain": true, "domainColor": "#222222", "domainWidth": 2,
      "labelPadding": 24, "labelFont": "Liberation Sans", "labelFontSize": 15, "labelColor": "black", "labelFlush": false, "labelOverlap": false, "labelBound": false,
      "title": "Frequency (GHz)", "titleFont": "Liberation Sans", "titleFontSize": 17, "titleFontWeight": "normal", "titleColor": "black", "titlePadding": 6}},
  "y": {"field": "d", "type": "quantitative", "scale": {"domain": [-70, 0], "nice": false},
    "axis": {"orient": "left", "values": [-70,-60,-50,-40,-30,-20,-10,0], "labelExpr": "'' + datum.value", "grid": true, "gridColor": "#cfcfcf", "gridWidth": 1, "ticks": false, "domain": true, "domainColor": "black", "domainWidth": 1.5,
      "labelPadding": 19, "labelFont": "Liberation Sans", "labelFontSize": 15, "labelColor": "black", "labelFlush": false, "labelOverlap": false, "labelBound": false,
      "title": "Insertion Loss (dB)", "titleFont": "Liberation Sans", "titleFontSize": 17, "titleFontWeight": "normal", "titleColor": "black", "titlePadding": 16}},
  "detail": {"field": "c", "type": "nominal"}
 }},
{"mark": {"type": "line", "opacity": 0},
 "encoding": {
  "x": {"field": "f", "type": "quantitative"},
  "y": {"field": "d", "type": "quantitative",
    "axis": {"orient": "left", "values": [-68,-66,-64,-62,-58,-56,-54,-52,-48,-46,-44,-42,-38,-36,-34,-32,-28,-26,-24,-22,-18,-16,-14,-12,-8,-6,-4,-2], "labels": false, "grid": false, "domain": false, "ticks": true, "tickSize": 7, "tickColor": "#444444", "tickWidth": 1.3, "offset": -7, "title": null}},
  "detail": {"field": "c", "type": "nominal"}
 }}
],
"resolve": {"axis": {"y": "independent"}}
}
